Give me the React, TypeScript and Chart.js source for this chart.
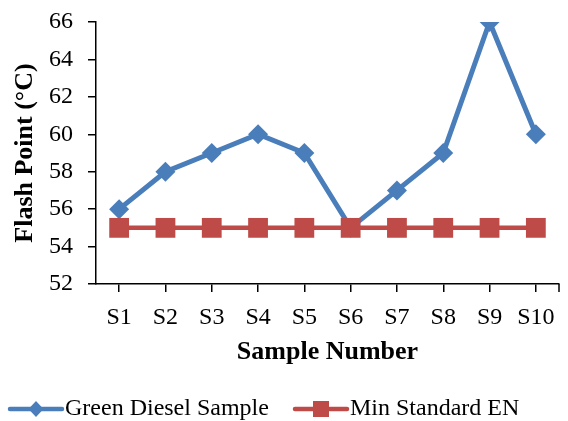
import React, { useEffect, useRef } from "react";
import { Chart, registerables } from "chart.js";

Chart.register(...registerables);

const categories = ["S1", "S2", "S3", "S4", "S5", "S6", "S7", "S8", "S9", "S10"];
const greenDiesel = [56, 58, 59, 60, 59, 55, 57, 59, 66, 60];
const minStandard = [55, 55, 55, 55, 55, 55, 55, 55, 55, 55];
const seriesNames = ["Green Diesel Sample", "Min Standard EN"];
const yMin = 52;
const yMax = 66;
const yStep = 2;

const BLUE = "#4A7EBB";
const RED = "#BE4B48";
const FONT = "'Liberation Serif', 'Times New Roman', serif";
const PLOT_RIGHT = 559;

const layoutFix = {
  id: "layoutFix",
  afterLayout(chart: any) {
    const x = chart.scales.x;
    if (!x) return;
    x.right = PLOT_RIGHT;
    x.width = PLOT_RIGHT - x.left;
    x.configure();
    chart.chartArea.right = PLOT_RIGHT;
    chart.chartArea.width = PLOT_RIGHT - chart.chartArea.left;
  },
};

const legendPlugin = {
  id: "customLegend",
  afterDraw(chart: any) {
    const ctx = chart.ctx;
    const x = chart.scales.x;
    ctx.save();
    // end tick on x-axis
    ctx.strokeStyle = "#000";
    ctx.lineWidth = 1.5;
    ctx.beginPath();
    ctx.moveTo(x.right, x.top);
    ctx.lineTo(x.right, x.top + 8);
    ctx.stroke();

    const y = 409;
    const items = [
      { name: seriesNames[0], color: BLUE, x0: 10, style: "diamond" },
      { name: seriesNames[1], color: RED, x0: 295, style: "square" },
    ];
    ctx.font = `24px ${FONT}`;
    ctx.textBaseline = "middle";
    for (const it of items) {
      ctx.strokeStyle = it.color;
      ctx.lineWidth = 4.5;
      ctx.lineCap = "round";
      ctx.beginPath();
      ctx.moveTo(it.x0, y);
      ctx.lineTo(it.x0 + 52, y);
      ctx.stroke();
      ctx.fillStyle = it.color;
      const cx = it.x0 + 26;
      if (it.style === "diamond") {
        ctx.beginPath();
        ctx.moveTo(cx, y - 8);
        ctx.lineTo(cx + 7.5, y);
        ctx.lineTo(cx, y + 8);
        ctx.lineTo(cx - 7.5, y);
        ctx.closePath();
        ctx.fill();
      } else {
        ctx.fillRect(cx - 8, y - 8, 16, 16);
      }
      ctx.fillStyle = "#000";
      ctx.fillText(it.name, it.x0 + 55, y);
    }
    ctx.restore();
  },
};

const noPad = (s: any) => {
  s.paddingLeft = 0;
  s.paddingRight = 0;
  s.paddingTop = 0;
  s.paddingBottom = 0;
};

export default function App() {
  const ref = useRef<HTMLCanvasElement>(null);
  useEffect(() => {
    const chart = new Chart(ref.current!, {
      type: "line",
      data: {
        labels: categories,
        datasets: [
          {
            label: seriesNames[0],
            data: greenDiesel,
            borderColor: BLUE,
            backgroundColor: BLUE,
            borderWidth: 5,
            pointStyle: "rectRot",
            pointRadius: 10,
            pointBorderWidth: 0,
            tension: 0,
            order: 2,
          },
          {
            label: seriesNames[1],
            data: minStandard,
            borderColor: RED,
            backgroundColor: RED,
            borderWidth: 4.5,
            pointStyle: "rect",
            pointRadius: 14,
            pointBorderWidth: 0,
            tension: 0,
            order: 1,
          },
        ],
      },
      options: {
        animation: false,
        responsive: false,
        maintainAspectRatio: false,
        layout: { padding: { left: 10, top: 22, right: 9, bottom: 53 } },
        plugins: { legend: { display: false }, tooltip: { enabled: false } },
        scales: {
          x: {
            offset: true,
            grid: { offset: false, drawOnChartArea: false, tickLength: 8, color: "#000", lineWidth: 1.5 },
            border: { color: "#000", width: 1.5 },
            ticks: { color: "#000", font: { family: FONT, size: 24 }, padding: 11, maxRotation: 0, autoSkip: false },
            title: {
              display: true,
              text: "Sample Number",
              color: "#000",
              font: { family: FONT, size: 26, weight: "bold" },
              padding: 0,
            },
            afterFit: (s: any) => {
              s.height = 84;
              noPad(s);
            },
          },
          y: {
            min: yMin,
            max: yMax,
            grid: { drawOnChartArea: false, tickLength: 8, color: "#000", lineWidth: 1.5 },
            border: { color: "#000", width: 1.5 },
            ticks: { stepSize: yStep, color: "#000", font: { family: FONT, size: 24 }, padding: 15 },
            title: {
              display: true,
              text: "Flash Point (°C)",
              color: "#000",
              font: { family: FONT, size: 26, weight: "bold" },
              padding: 0,
            },
            afterFit: (s: any) => {
              s.width = 86;
              noPad(s);
            },
          },
        },
      },
      plugins: [layoutFix, legendPlugin],
    });
    return () => chart.destroy();
  }, []);
  return (
    <div style={{ position: "fixed", left: 0, top: 0, width: 568, height: 421, background: "#fff" }}>
      <canvas ref={ref} width={568} height={421} style={{ width: 568, height: 421 }} />
    </div>
  );
}
